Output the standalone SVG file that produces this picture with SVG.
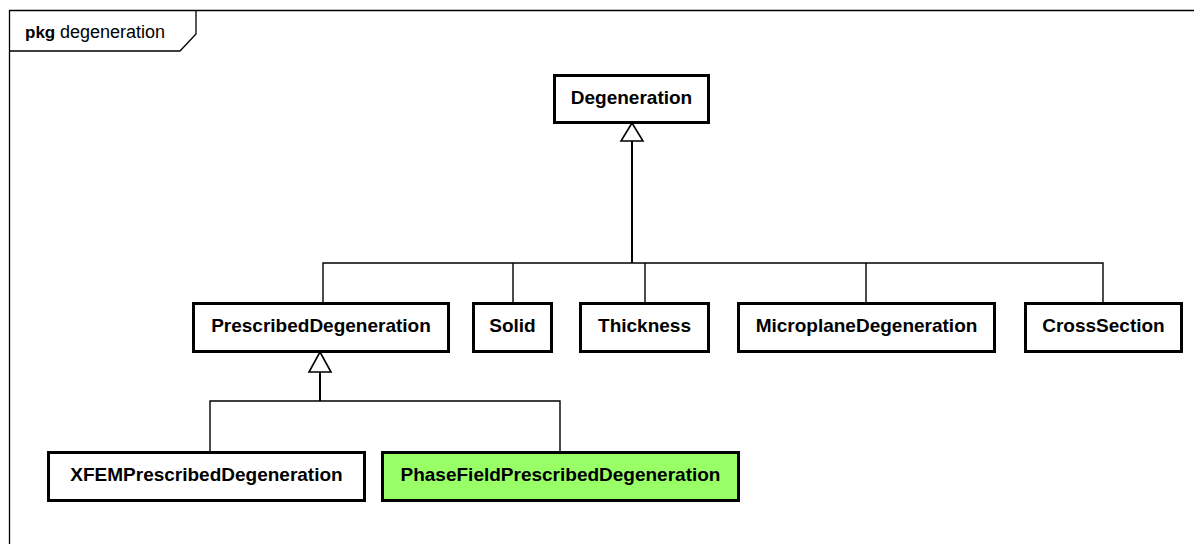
<svg xmlns="http://www.w3.org/2000/svg" width="1194" height="544" viewBox="0 0 1194 544">
<style>
.node rect{fill:#fff;stroke:#000;stroke-width:3}
.node text{font-family:"Liberation Sans",Arial,sans-serif;font-weight:bold;font-size:19px;text-anchor:middle;fill:#000}
.conn{fill:none;stroke:#000;stroke-width:1.4}
.stem{fill:none;stroke:#000;stroke-width:2}
.tri{fill:#fff;stroke:#000;stroke-width:1.6}
</style>
<rect x="0" y="0" width="1194" height="544" fill="#fff"/>
<g id="frame">
<path d="M9.5 544 V10.5 H1194" fill="none" stroke="#000" stroke-width="1.3"/>
<path d="M9.5 51 H180 L196 34 V10.5" fill="none" stroke="#000" stroke-width="1.3"/>
<text x="25" y="38" font-family="&quot;Liberation Sans&quot;,Arial,sans-serif" fill="#000"><tspan font-weight="bold" font-size="17">pkg</tspan><tspan x="60" font-size="18">degeneration</tspan></text>
</g>
<g id="connectors">
<path class="stem" d="M632 141 V263"/>
<path class="conn" d="M323 303 V263 H1103 V303 M513 263 V303 M645 263 V303 M866 263 V303"/>
<polygon class="tri" points="632,123 621,141 643,141"/>
<path class="stem" d="M320 372 V401"/>
<path class="conn" d="M210 452 V401 H560 V452"/>
<polygon class="tri" points="320,352 309,372 331,372"/>
</g>
<g id="Degeneration" class="node"><rect x="554.5" y="75.5" width="154" height="47"/><text x="631.5" y="104">Degeneration</text></g>
<g id="PrescribedDegeneration" class="node"><rect x="193.5" y="303.5" width="255" height="48"/><text x="321" y="332">PrescribedDegeneration</text></g>
<g id="Solid" class="node"><rect x="473.5" y="303.5" width="78" height="48"/><text x="512.5" y="332">Solid</text></g>
<g id="Thickness" class="node"><rect x="580.5" y="303.5" width="128" height="48"/><text x="644.5" y="332">Thickness</text></g>
<g id="MicroplaneDegeneration" class="node"><rect x="738.5" y="303.5" width="256" height="48"/><text x="866.5" y="332">MicroplaneDegeneration</text></g>
<g id="CrossSection" class="node"><rect x="1025.5" y="303.5" width="156" height="48"/><text x="1103.5" y="332">CrossSection</text></g>
<g id="XFEMPrescribedDegeneration" class="node"><rect x="48.5" y="452.5" width="316" height="48"/><text x="206.5" y="481">XFEMPrescribedDegeneration</text></g>
<g id="PhaseFieldPrescribedDegeneration" class="node"><rect x="382.5" y="452.5" width="356" height="48" style="fill:#99ff66"/><text x="560.5" y="481">PhaseFieldPrescribedDegeneration</text></g>
</svg>
